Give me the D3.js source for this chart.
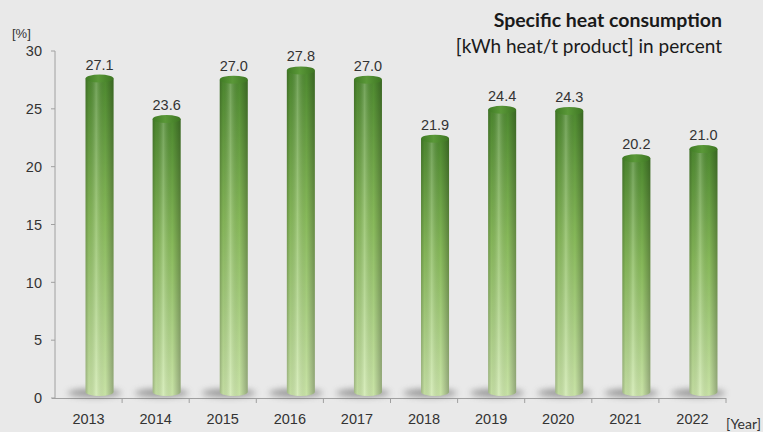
<!DOCTYPE html>
<html>
<head>
<meta charset="utf-8">
<script src="https://cdn.jsdelivr.net/npm/d3@7"></script>
<style>
  html, body { margin: 0; padding: 0; background: #e9e9e9; }
  svg { display: block; }
</style>
</head>
<body>
<svg id="chart" width="763" height="432"></svg>
<script>
// Specific heat consumption per year, in percent
const years = ["2013", "2014", "2015", "2016", "2017", "2018", "2019", "2020", "2021", "2022"];
const values = [27.1, 23.6, 27.0, 27.8, 27.0, 21.9, 24.4, 24.3, 20.2, 21.0];
const yTicks = [0, 5, 10, 15, 20, 25, 30];

const W = 763, H = 432;
const svg = d3.select("#chart");

svg.append("rect").attr("width", W).attr("height", H).attr("fill", "#e9e9e9");

const x = d3.scaleBand().domain(years).range([55, 726]).paddingInner(0).paddingOuter(0);
const y = d3.scaleLinear().domain([0, 30]).range([398, 51]);

// 3D depth offset of the cylinders relative to the floor
const depthX = 11, depthY = 6;
const barW = 28, ry = 4;

const defs = svg.append("defs");

const vGrad = defs.append("linearGradient").attr("id", "barV")
  .attr("x1", 0).attr("y1", 0).attr("x2", 0).attr("y2", 1);
vGrad.append("stop").attr("offset", "0%").attr("stop-color", "#4f8c30");
vGrad.append("stop").attr("offset", "45%").attr("stop-color", "#8abd5c");
vGrad.append("stop").attr("offset", "100%").attr("stop-color", "#cde8aa");

const hGrad = defs.append("linearGradient").attr("id", "barH")
  .attr("x1", 0).attr("y1", 0).attr("x2", 1).attr("y2", 0);
hGrad.append("stop").attr("offset", "0%").attr("stop-color", "#000").attr("stop-opacity", 0.22);
hGrad.append("stop").attr("offset", "12%").attr("stop-color", "#000").attr("stop-opacity", 0.05);
hGrad.append("stop").attr("offset", "38%").attr("stop-color", "#fff").attr("stop-opacity", 0.22);
hGrad.append("stop").attr("offset", "70%").attr("stop-color", "#000").attr("stop-opacity", 0.02);
hGrad.append("stop").attr("offset", "100%").attr("stop-color", "#000").attr("stop-opacity", 0.28);

const topGrad = defs.append("linearGradient").attr("id", "barTop")
  .attr("x1", 0).attr("y1", 0).attr("x2", 1).attr("y2", 0);
topGrad.append("stop").attr("offset", "0%").attr("stop-color", "#3f7a24");
topGrad.append("stop").attr("offset", "45%").attr("stop-color", "#5a9838");
topGrad.append("stop").attr("offset", "100%").attr("stop-color", "#3d7522");

const blur = defs.append("filter").attr("id", "shadowBlur")
  .attr("x", "-50%").attr("y", "-200%").attr("width", "200%").attr("height", "500%");
blur.append("feGaussianBlur").attr("stdDeviation", 3);

// Axes
svg.append("line").attr("x1", 55).attr("x2", 55).attr("y1", 51).attr("y2", 398)
  .attr("stroke", "#a0a0a0").attr("stroke-width", 1);
svg.append("line").attr("x1", 52).attr("x2", 726).attr("y1", 398.5).attr("y2", 398.5)
  .attr("stroke", "#a0a0a0").attr("stroke-width", 1);

const yAx = svg.append("g");
yTicks.forEach(t => {
  yAx.append("line").attr("x1", 51).attr("x2", 55).attr("y1", y(t)).attr("y2", y(t))
    .attr("stroke", "#a0a0a0");
  yAx.append("text").attr("x", 42).attr("y", y(t)).attr("dy", "0.36em")
    .attr("text-anchor", "end").attr("font-family", "Liberation Sans, Arial, sans-serif")
    .attr("font-size", 14.5).attr("fill", "#333").text(t);
});

const xAx = svg.append("g");
years.forEach((yr, i) => {
  const edge = x(yr) + x.bandwidth();
  xAx.append("line").attr("x1", edge).attr("x2", edge).attr("y1", 398).attr("y2", 403)
    .attr("stroke", "#a0a0a0");
  xAx.append("text").attr("x", x(yr) + x.bandwidth() / 2).attr("y", 424)
    .attr("text-anchor", "middle").attr("font-family", "Liberation Sans, Arial, sans-serif")
    .attr("font-size", 14.5).attr("fill", "#333").text(yr);
});

// Cylinders
const bars = svg.append("g").selectAll("g").data(years.map((yr, i) => ({ yr, v: values[i] })))
  .join("g");

const cx = d => x(d.yr) + x.bandwidth() / 2 + depthX;
const base = y(0) - depthY;

bars.append("ellipse").attr("cx", d => cx(d) - 5).attr("cy", base + 1)
  .attr("rx", 27).attr("ry", 4).attr("fill", "#606060").attr("opacity", 0.6)
  .attr("filter", "url(#shadowBlur)");

const sidePath = d => {
  const l = cx(d) - barW / 2, r = cx(d) + barW / 2, t = y(d.v) - depthY;
  return `M${l},${t} L${l},${base} A${barW / 2},${ry} 0 0 0 ${r},${base} L${r},${t} Z`;
};

bars.append("path").attr("d", sidePath).attr("fill", "url(#barV)");
bars.append("path").attr("d", sidePath).attr("fill", "url(#barH)");

bars.append("ellipse").attr("cx", d => cx(d)).attr("cy", d => y(d.v) - depthY)
  .attr("rx", barW / 2).attr("ry", ry).attr("fill", "url(#barTop)");

bars.append("text").attr("x", d => cx(d)).attr("y", d => y(d.v) - depthY - ry - 5)
  .attr("text-anchor", "middle").attr("font-family", "Liberation Sans, Arial, sans-serif")
  .attr("font-size", 14.5).attr("fill", "#333").text(d => d.v.toFixed(1));

// Unit labels
svg.append("text").attr("x", 12).attr("y", 38).attr("font-family", "Liberation Sans, Arial, sans-serif")
  .attr("font-size", 13).attr("fill", "#333").text("[%]");
svg.append("text").attr("x", 761).attr("y", 429).attr("text-anchor", "end")
  .attr("font-family", "Lato, sans-serif").attr("font-size", 14).attr("fill", "#333").text("[Year]");

// Title
svg.append("text").attr("x", 722).attr("y", 27).attr("text-anchor", "end")
  .attr("font-family", "Lato, sans-serif").attr("font-weight", "bold")
  .attr("font-size", 19.5).attr("fill", "#1a1a1a").text("Specific heat consumption");
svg.append("text").attr("x", 722).attr("y", 53).attr("text-anchor", "end")
  .attr("font-family", "Lato, sans-serif")
  .attr("font-size", 19).attr("fill", "#1a1a1a").text("[kWh heat/t product] in percent");
</script>
</body>
</html>
